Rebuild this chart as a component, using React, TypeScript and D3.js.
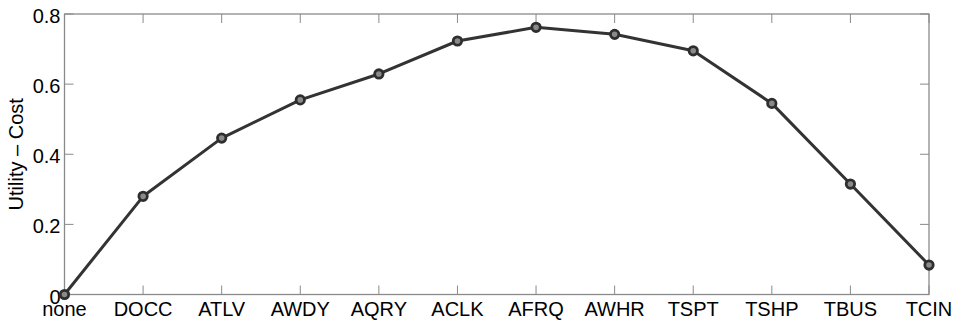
import { useEffect, useRef } from 'react';
import * as d3 from 'd3';

const categories = ["none", "DOCC", "ATLV", "AWDY", "AQRY", "ACLK", "AFRQ", "AWHR", "TSPT", "TSHP", "TBUS", "TCIN"];
const values = [0, 0.28, 0.446, 0.555, 0.629, 0.723, 0.762, 0.742, 0.695, 0.545, 0.315, 0.084];
const yTicks = [0, 0.2, 0.4, 0.6, 0.8];
const yLabel = "Utility \u2013 Cost";

export default function App() {
    const svgRef = useRef<SVGSVGElement>(null);
    const width = 957;
    const height = 321;
    const margin = { top: 14, right: 28, bottom: 26.5, left: 64.5 };

    useEffect(() => {
        if (!svgRef.current) return;
        d3.select(svgRef.current).selectAll("*").remove();
        const svg = d3.select(svgRef.current);
        const w = width - margin.left - margin.right;
        const h = height - margin.top - margin.bottom;

        const x = d3.scaleLinear().domain([0, categories.length - 1]).range([0, w]);
        const y = d3.scaleLinear().domain([0, 0.8]).range([h, 0]);

        const g = svg.append("g").attr("transform", `translate(${margin.left},${margin.top})`);
        const axisColor = "#8a8a8a";
        const font = "'Liberation Sans', Arial, Helvetica, sans-serif";
        const tickLen = 9;

        // caixa
        g.append("rect")
            .attr("x", 0).attr("y", 0).attr("width", w).attr("height", h)
            .attr("fill", "none").attr("stroke", axisColor).attr("stroke-width", 1.3);

        // ticks x (em baixo e em cima)
        const xi = d3.range(categories.length);
        g.selectAll(".xt-b").data(xi).enter().append("line")
            .attr("x1", d => x(d)).attr("x2", d => x(d))
            .attr("y1", h).attr("y2", h - tickLen)
            .attr("stroke", axisColor).attr("stroke-width", 1);
        g.selectAll(".xt-t").data(xi).enter().append("line")
            .attr("x1", d => x(d)).attr("x2", d => x(d))
            .attr("y1", 0).attr("y2", tickLen)
            .attr("stroke", axisColor).attr("stroke-width", 1);

        // ticks y (esquerda e direita)
        g.selectAll(".yt-l").data(yTicks).enter().append("line")
            .attr("x1", 0).attr("x2", tickLen)
            .attr("y1", d => y(d)).attr("y2", d => y(d))
            .attr("stroke", axisColor).attr("stroke-width", 1);
        g.selectAll(".yt-r").data(yTicks).enter().append("line")
            .attr("x1", w).attr("x2", w - tickLen)
            .attr("y1", d => y(d)).attr("y2", d => y(d))
            .attr("stroke", axisColor).attr("stroke-width", 1);

        // labels x
        g.selectAll(".xl").data(xi).enter().append("text")
            .attr("x", d => x(d)).attr("y", h + 21.5)
            .attr("text-anchor", "middle")
            .style("font-family", font).style("font-size", "20px").style("fill", "#000")
            .text(d => categories[d]);

        // labels y
        g.selectAll(".yl").data(yTicks).enter().append("text")
            .attr("x", -4).attr("y", d => y(d) + 9)
            .attr("text-anchor", "end")
            .style("font-family", font).style("font-size", "20px").style("fill", "#000")
            .text(d => d === 0 ? "0" : d.toFixed(1));

        // titulo y
        svg.append("text")
            .attr("transform", `translate(23,${margin.top + h / 2}) rotate(-90)`)
            .attr("text-anchor", "middle")
            .style("font-family", font).style("font-size", "20px").style("fill", "#000")
            .text(yLabel);

        // linha
        const line = d3.line<number>().x((_, i) => x(i)).y(d => y(d));
        g.append("path").datum(values)
            .attr("d", line)
            .attr("fill", "none").attr("stroke", "#333").attr("stroke-width", 3)
            .attr("stroke-linejoin", "round");

        g.selectAll(".pt").data(values).enter().append("circle")
            .attr("cx", (_, i) => x(i)).attr("cy", d => y(d))
            .attr("r", 4.2)
            .attr("fill", "#8a8a8a").attr("stroke", "#2e2e2e").attr("stroke-width", 2.8);
    }, []);

    return (
        <div style={{ position: "fixed", left: 0, top: 0, width, height, background: "#fff" }}>
            <svg ref={svgRef} width={width} height={height} viewBox={`0 0 ${width} ${height}`} />
        </div>
    );
}
